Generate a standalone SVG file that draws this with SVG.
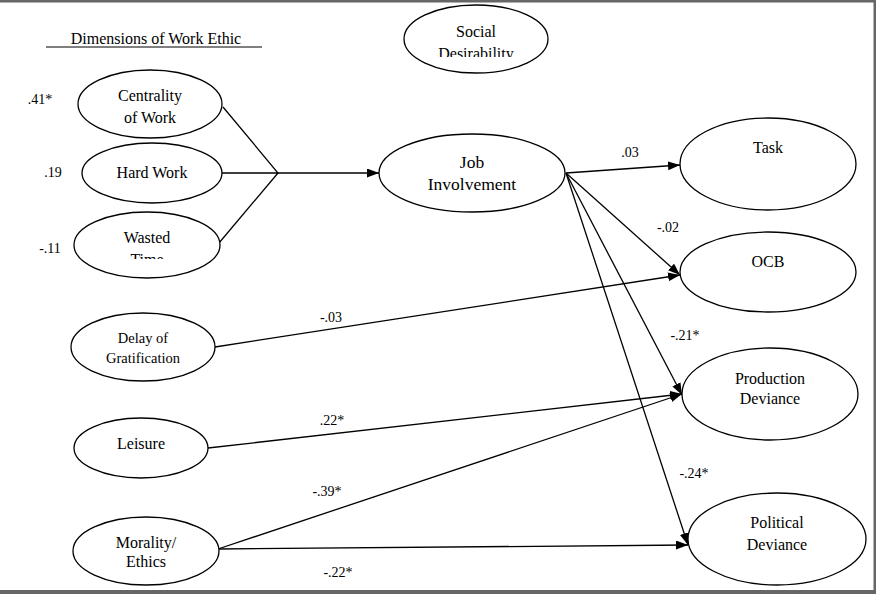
<svg xmlns="http://www.w3.org/2000/svg" width="876" height="594" viewBox="0 0 876 594">
<style>
.n{fill:#fff;stroke:#000;stroke-width:1.3}
.t{font-family:"Liberation Serif","Times New Roman",serif;font-size:16px;fill:#000;text-anchor:middle}
.s{font-size:14.5px}
.c{font-family:"Liberation Serif","Times New Roman",serif;font-size:14px;fill:#000;text-anchor:middle}
.l{fill:none;stroke:#000;stroke-width:1.3}
.a{fill:none;stroke:#000;stroke-width:1.3;marker-end:url(#ah)}
</style>
<defs>
<marker id="ah" markerUnits="userSpaceOnUse" markerWidth="13" markerHeight="10" refX="12" refY="4.5" orient="auto">
<path d="M0,0 L12,4.5 L0,9 z" fill="#000"/>
</marker>
<clipPath id="cw"><rect x="0" y="0" width="876" height="259"/></clipPath>
<clipPath id="cs"><rect x="0" y="0" width="876" height="57"/></clipPath>
</defs>
<rect x="0" y="0" width="876" height="594" fill="#fff"/>
<rect x="0" y="0" width="876" height="2.5" fill="#666"/>
<rect x="873.5" y="0" width="2.5" height="594" fill="#666"/>
<rect x="0" y="590" width="876" height="4" fill="#666"/>

<text class="t" x="156" y="44">Dimensions of Work Ethic</text>
<line x1="46" y1="47" x2="262" y2="47" stroke="#000" stroke-width="1"/>

<g id="connectors">
<polyline class="l" points="223,107 278,173 222,173"/>
<line class="l" x1="219" y1="243" x2="278" y2="173"/>
<line class="a" x1="278" y1="173" x2="379" y2="173"/>
<line class="a" x1="566" y1="173" x2="680" y2="165"/>
<line class="a" x1="566" y1="173" x2="680" y2="275"/>
<line class="a" x1="566" y1="173" x2="682" y2="395"/>
<line class="a" x1="566" y1="173" x2="688" y2="545"/>
<line class="a" x1="215" y1="347" x2="680" y2="275"/>
<line class="a" x1="208" y1="448" x2="682" y2="394"/>
<line class="a" x1="218" y1="549" x2="682" y2="394"/>
<line class="a" x1="218" y1="549" x2="688" y2="545"/>
</g>

<g id="labels">
<text class="c" x="40" y="104">.41*</text>
<text class="c" x="53" y="177">.19</text>
<text class="c" x="50" y="253">-.11</text>
<text class="c" x="630" y="157">.03</text>
<text class="c" x="668" y="232">-.02</text>
<text class="c" x="685" y="340">-.21*</text>
<text class="c" x="694" y="478">-.24*</text>
<text class="c" x="331" y="322">-.03</text>
<text class="c" x="332" y="425">.22*</text>
<text class="c" x="327" y="496">-.39*</text>
<text class="c" x="338" y="577">-.22*</text>
</g>

<g id="social-desirability">
<ellipse class="n" cx="476" cy="39" rx="72" ry="34"/>
<g clip-path="url(#cs)">
<text class="t" x="476" y="37">Social</text>
<text class="t" x="476" y="59">Desirability</text>
</g>
</g>

<g id="centrality">
<ellipse class="n" cx="150" cy="104" rx="72" ry="34"/>
<text class="t" x="150" y="101">Centrality</text>
<text class="t" x="150" y="123">of Work</text>
</g>

<g id="hard-work">
<ellipse class="n" cx="152" cy="173" rx="70" ry="30"/>
<text class="t" x="152" y="178">Hard Work</text>
</g>

<g id="wasted-time">
<ellipse class="n" cx="147" cy="245" rx="73" ry="33"/>
<g clip-path="url(#cw)">
<text class="t" x="147" y="243">Wasted</text>
<text class="t" x="147" y="265">Time</text>
</g>
</g>

<g id="delay">
<ellipse class="n" cx="143" cy="347" rx="72" ry="34"/>
<text class="t s" x="143" y="343">Delay of</text>
<text class="t s" x="143" y="363">Gratification</text>
</g>

<g id="leisure">
<ellipse class="n" cx="141" cy="448" rx="67" ry="30"/>
<text class="t" x="141" y="449">Leisure</text>
</g>

<g id="morality">
<ellipse class="n" cx="146" cy="551" rx="73" ry="34"/>
<text class="t" x="146" y="548">Morality/</text>
<text class="t" x="146" y="567">Ethics</text>
</g>

<g id="job-involvement">
<ellipse class="n" cx="472" cy="173" rx="93" ry="39"/>
<text class="t" x="472" y="168" style="font-size:17.5px">Job</text>
<text class="t" x="472" y="190" style="font-size:17.5px">Involvement</text>
</g>

<g id="task">
<ellipse class="n" cx="768" cy="164" rx="88" ry="46"/>
<text class="t" x="768" y="153">Task</text>
</g>

<g id="ocb">
<ellipse class="n" cx="768" cy="272" rx="88" ry="40"/>
<text class="t" x="768" y="267">OCB</text>
</g>

<g id="production-deviance">
<ellipse class="n" cx="770" cy="394" rx="88" ry="46"/>
<text class="t" x="770" y="384">Production</text>
<text class="t" x="770" y="404">Deviance</text>
</g>

<g id="political-deviance">
<ellipse class="n" cx="777" cy="539" rx="89" ry="46"/>
<text class="t" x="777" y="528">Political</text>
<text class="t" x="777" y="550">Deviance</text>
</g>
</svg>
